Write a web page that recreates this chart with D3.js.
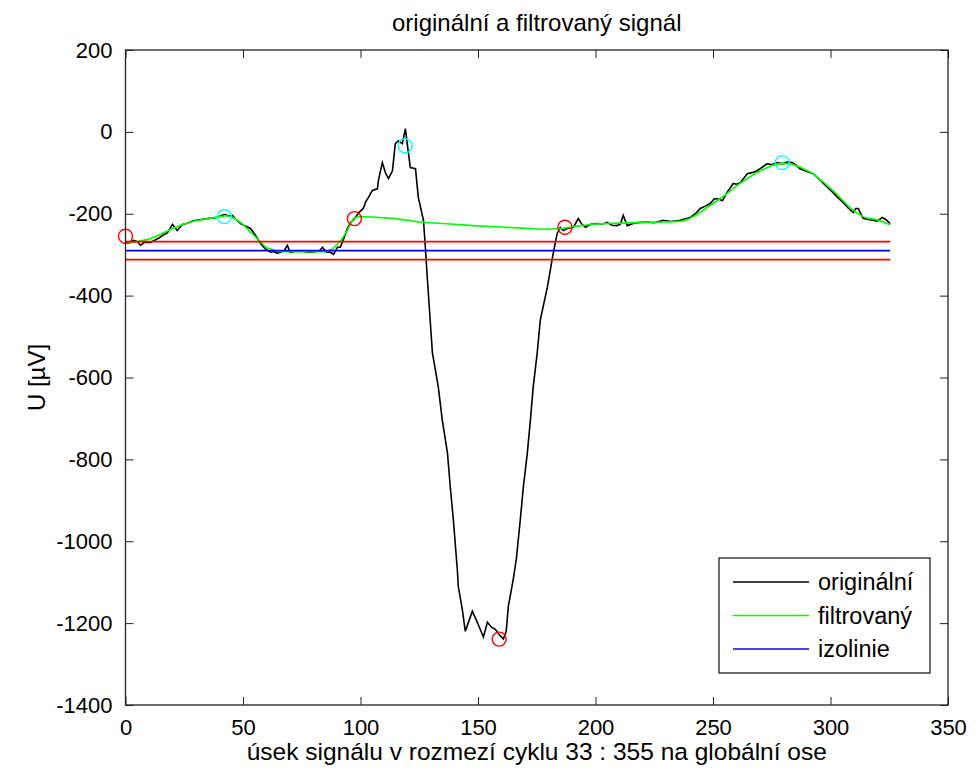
<!DOCTYPE html>
<html>
<head>
<meta charset="utf-8">
<script src="https://cdn.jsdelivr.net/npm/d3@7"></script>
<style>
  body { margin: 0; background: #fff; }
  text { font-family: "Liberation Sans", Arial, sans-serif; fill: #000; }
</style>
</head>
<body>
<div id="chart"></div>
<script>
// original signal (sample index, value in uV)
const origX = [0, 1.3, 3.4, 5, 6.4, 8, 10.6, 12, 14, 16, 17.9, 20, 22, 24.2, 26, 29, 32, 34.9, 37, 39, 41, 42.5, 44, 45.5, 47, 49, 51, 53.2, 55, 57.4, 59.5, 61.7, 63, 64.5, 66, 67.5, 68.9, 70, 72, 74.4, 76.5, 78.7, 81, 82.5, 83.8, 85.5, 87.2, 88.5, 90.2, 91.4, 92.8, 94.4, 95.8, 97.8, 99.5, 101.2, 102.3, 103.4, 105, 107.2, 107.6, 109.3, 110.6, 111.9, 113.6, 114.8, 116.1, 117.8, 119.1, 120, 121.2, 123.4, 124.6, 126.8, 127.6, 128.5, 130.6, 133.1, 134.8, 137, 138.2, 139.5, 141.2, 141.6, 143.3, 144.6, 145.8, 147.6, 149.7, 152.3, 154, 155.7, 157.4, 159, 160.8, 162, 162.9, 165, 166.3, 168, 169.3, 171, 172.3, 173.5, 175.2, 176.5, 179.5, 182, 183.7, 185, 186.3, 188, 190.6, 192.7, 194, 195.7, 198, 200.8, 203, 205, 207, 209, 210.5, 211.8, 213.5, 216, 219, 222, 225, 228.8, 232, 236, 240.3, 242.5, 244.6, 246.5, 248.8, 250.5, 251.8, 254, 256, 258.6, 260, 261.6, 263, 264.6, 267, 268.8, 271, 273, 275, 277.3, 279.5, 281.5, 283.7, 285.5, 287, 290, 292.6, 295, 297, 299, 301, 303, 305.4, 307.5, 309.7, 310.8, 311.8, 313.9, 316, 318, 320, 322, 323.5, 325.4];
const origY = [-270, -272, -265, -268, -277, -270, -270, -266, -260, -252, -246, -226, -241, -226, -224, -217, -214, -212, -210, -209, -204, -202, -206, -204, -214, -224, -230, -236, -250, -272, -286, -294, -292, -296, -294, -290, -277, -294, -292, -290, -293, -294, -292, -291, -282, -294, -294, -299, -282, -282, -262, -236, -222, -209, -196, -187, -170, -160, -143, -139, -119, -75, -100, -114, -95, -29, -22, -29, 8, -34, -87, -90, -160, -216, -282, -363, -540, -623, -704, -784, -867, -947, -1069, -1110, -1166, -1220, -1200, -1171, -1198, -1234, -1198, -1210, -1215, -1228, -1239, -1220, -1159, -1093, -1044, -947, -867, -784, -704, -623, -540, -460, -380, -297, -248, -234, -241, -236, -233, -212, -224, -233, -226, -224, -225, -221, -228, -229, -226, -204, -229, -224, -221, -220, -222, -216, -219, -216, -209, -200, -187, -182, -175, -164, -163, -168, -148, -126, -128, -124, -114, -102, -99, -95, -86, -78, -80, -75, -78, -74, -75, -82, -90, -97, -102, -114, -126, -137, -148, -160, -173, -186, -197, -187, -187, -211, -214, -216, -218, -209, -214, -224];

// filtered signal
const filtX = [0, 5, 10, 15, 20, 25, 30, 35, 40, 43, 46, 50, 55, 60, 65, 70, 75, 80, 85, 88, 91, 94, 97, 99, 105, 115, 125, 135, 148, 162, 178, 186, 190, 195, 200, 210, 220, 230, 237, 240, 245, 250, 255, 260, 265, 270, 275, 279, 283, 287, 292, 297, 302, 307, 311, 315, 320, 325.4];
const filtY = [-272, -268, -262, -250, -236, -225, -217, -212, -207, -205, -210, -226, -255, -283, -292, -293, -293, -293, -293, -287, -270, -245, -212, -207, -208, -212, -220, -224, -229, -233, -238, -236, -232, -228, -225, -223, -221, -220, -218, -212, -195, -175, -155, -132, -112, -95, -82, -77, -78, -86, -100, -123, -148, -178, -198, -210, -215, -227];

// isoline and its band
const isoRange = [0, 325.4];
const isoLevel = -290;
const isoBand = [-268, -312];

// detected points
const redPtsX = [0, 97.4, 159, 187];
const redPtsY = [-255, -212, -1239, -233];
const cyanPtsX = [42.1, 119, 279.5];
const cyanPtsY = [-207, -34, -75];

const xTicks = [0, 50, 100, 150, 200, 250, 300, 350];
const yTicks = [200, 0, -200, -400, -600, -800, -1000, -1200, -1400];

const legendNames = ["originální", "filtrovaný", "izolinie"];
const legendColors = ["#000000", "#00ff00", "#0000ff"];

const width = 978, height = 771;
const margin = { left: 125.5, right: 30, top: 50, bottom: 66 };
const plotW = width - margin.left - margin.right;
const plotH = height - margin.top - margin.bottom;

const svg = d3.select("#chart").append("svg")
    .attr("width", width)
    .attr("height", height)
    .style("display", "block");

svg.append("rect").attr("width", width).attr("height", height).attr("fill", "#fff");

const g = svg.append("g").attr("transform", `translate(${margin.left}, ${margin.top})`);

const x = d3.scaleLinear().domain([0, 350]).range([0, plotW]);
const y = d3.scaleLinear().domain([-1400, 200]).range([plotH, 0]);

const line = d3.line().x(d => x(d[0])).y(d => y(d[1]));

// signals
g.append("path")
    .datum(origX.map((v, i) => [v, origY[i]]))
    .attr("d", line)
    .attr("fill", "none")
    .attr("stroke", "#000")
    .attr("stroke-width", 1.6);

g.append("path")
    .datum(filtX.map((v, i) => [v, filtY[i]]))
    .attr("d", line)
    .attr("fill", "none")
    .attr("stroke", "#00ff00")
    .attr("stroke-width", 1.6);

// isoline + band
g.append("path")
    .datum(isoRange.map(v => [v, isoLevel]))
    .attr("d", line)
    .attr("stroke", "#0000ff")
    .attr("stroke-width", 1.8);

isoBand.forEach(lvl => {
    g.append("path")
        .datum(isoRange.map(v => [v, lvl]))
        .attr("d", line)
        .attr("stroke", "#ff0000")
        .attr("stroke-width", 1.8);
});

// markers
g.selectAll(".red")
    .data(redPtsX.map((v, i) => [v, redPtsY[i]]))
    .enter().append("circle")
    .attr("cx", d => x(d[0]))
    .attr("cy", d => y(d[1]))
    .attr("r", 7)
    .attr("fill", "none")
    .attr("stroke", "#ff0000")
    .attr("stroke-width", 1.4);

g.selectAll(".cyan")
    .data(cyanPtsX.map((v, i) => [v, cyanPtsY[i]]))
    .enter().append("circle")
    .attr("cx", d => x(d[0]))
    .attr("cy", d => y(d[1]))
    .attr("r", 7)
    .attr("fill", "none")
    .attr("stroke", "#00ffff")
    .attr("stroke-width", 1.4);

// axes (MATLAB-like box with inner ticks)
const tickLen = 8;
const axStyle = sel => {
    sel.select(".domain").remove();
    sel.selectAll("line").attr("stroke", "#222");
    sel.selectAll("text").style("font-size", "22px").attr("fill", "#000");
};

g.append("g")
    .attr("transform", `translate(0, ${plotH})`)
    .call(d3.axisBottom(x).tickValues(xTicks).tickSizeInner(-tickLen).tickSizeOuter(0).tickPadding(14).tickFormat(d => String(d)))
    .call(axStyle);

g.append("g")
    .call(d3.axisTop(x).tickValues(xTicks).tickSizeInner(-tickLen).tickSizeOuter(0).tickFormat(""))
    .call(axStyle);

g.append("g")
    .call(d3.axisLeft(y).tickValues(yTicks).tickSizeInner(-tickLen).tickSizeOuter(0).tickPadding(13).tickFormat(d => String(d)))
    .call(axStyle);

g.append("g")
    .attr("transform", `translate(${plotW}, 0)`)
    .call(d3.axisRight(y).tickValues(yTicks).tickSizeInner(-tickLen).tickSizeOuter(0).tickFormat(""))
    .call(axStyle);

g.append("rect")
    .attr("width", plotW)
    .attr("height", plotH)
    .attr("fill", "none")
    .attr("stroke", "#222")
    .attr("stroke-width", 1.3);

// legend
const legend = g.append("g").attr("transform", `translate(${719 - margin.left}, ${558 - margin.top})`);
legend.append("rect")
    .attr("width", 211)
    .attr("height", 115)
    .attr("fill", "#fff")
    .attr("stroke", "#222")
    .attr("stroke-width", 1.3);

legendNames.forEach((name, i) => {
    const ly = 24 + i * 33.5;
    legend.append("line")
        .attr("x1", 14).attr("x2", 90)
        .attr("y1", ly).attr("y2", ly)
        .attr("stroke", legendColors[i])
        .attr("stroke-width", 1.6);
    legend.append("text")
        .attr("x", 99)
        .attr("y", ly + 8)
        .style("font-size", "23.5px")
        .text(name);
});

// titles
svg.append("text")
    .attr("x", margin.left + plotW / 2)
    .attr("y", 31)
    .attr("text-anchor", "middle")
    .style("font-size", "24px")
    .text("originální  a filtrovaný signál");

svg.append("text")
    .attr("x", margin.left + plotW / 2)
    .attr("y", 760)
    .attr("text-anchor", "middle")
    .style("font-size", "24.5px")
    .text("úsek signálu v rozmezí cyklu 33 : 355 na globální ose");

svg.append("text")
    .attr("transform", `translate(45, ${margin.top + plotH / 2}) rotate(-90)`)
    .attr("text-anchor", "middle")
    .style("font-size", "24px")
    .text("U [µV]");
</script>
</body>
</html>
